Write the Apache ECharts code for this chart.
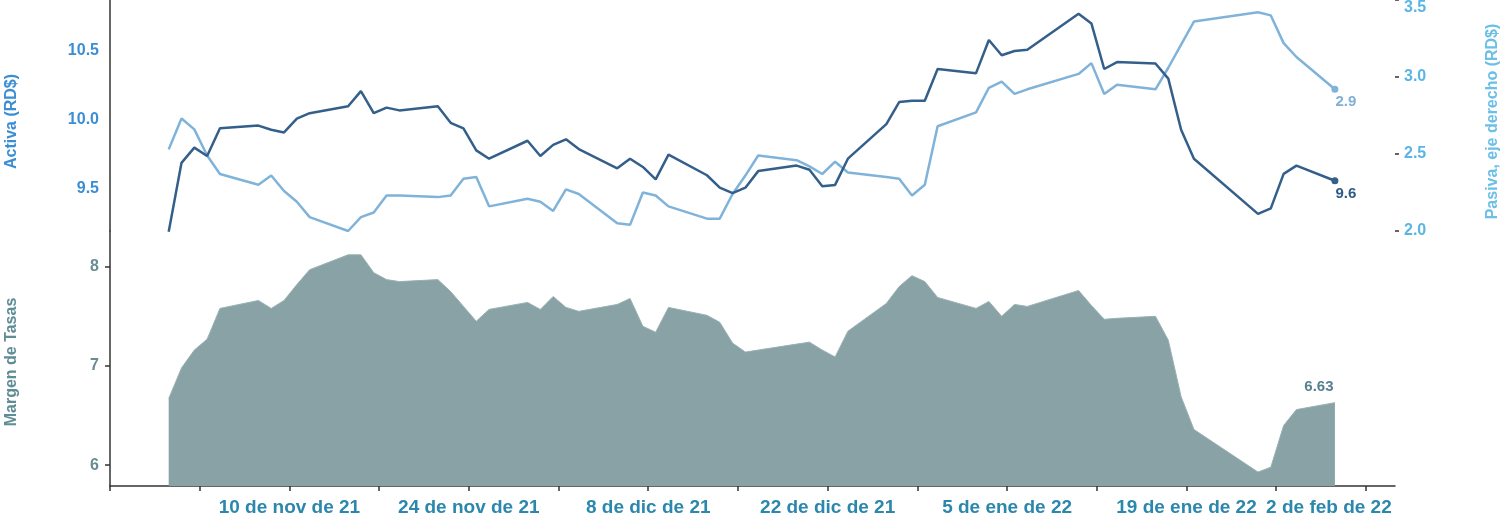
<!DOCTYPE html>
<html>
<head>
<meta charset="utf-8">
<title>Tasas activa y pasiva</title>
<script src="https://cdn.jsdelivr.net/npm/echarts@6/dist/echarts.min.js"></script>
<style>
  html, body { margin: 0; padding: 0; background: #fff; }
  #chart { width: 1504px; height: 523px; }
</style>
</head>
<body>
<div id="chart"></div>
<script>
// fechas (dias habiles con dato)
var fechas = [
  '2021-11-01','2021-11-02','2021-11-03','2021-11-04','2021-11-05','2021-11-08','2021-11-09','2021-11-10',
  '2021-11-11','2021-11-12','2021-11-15','2021-11-16','2021-11-17','2021-11-18','2021-11-19','2021-11-22',
  '2021-11-23','2021-11-24','2021-11-25','2021-11-26','2021-11-29','2021-11-30',
  '2021-12-01','2021-12-02','2021-12-03','2021-12-06','2021-12-07','2021-12-08','2021-12-09','2021-12-10',
  '2021-12-13','2021-12-14','2021-12-15','2021-12-16','2021-12-17','2021-12-20','2021-12-21','2021-12-22',
  '2021-12-23','2021-12-24','2021-12-27','2021-12-28','2021-12-29','2021-12-30','2021-12-31',
  '2022-01-03','2022-01-04','2022-01-05','2022-01-06','2022-01-07','2022-01-11','2022-01-12','2022-01-13',
  '2022-01-14','2022-01-17','2022-01-18','2022-01-19','2022-01-20','2022-01-25','2022-01-26','2022-01-27',
  '2022-01-28','2022-01-31'
];

var activa = [
  9.19, 9.69, 9.80, 9.74, 9.94, 9.96, 9.93, 9.91, 10.01, 10.05, 10.10, 10.21, 10.05, 10.09, 10.07, 10.10,
  9.98, 9.94, 9.78, 9.72, 9.85, 9.74,
  9.82, 9.86, 9.79, 9.65, 9.72, 9.66, 9.57, 9.75, 9.60, 9.51, 9.47, 9.51, 9.63, 9.67, 9.64, 9.52,
  9.53, 9.72, 9.97, 10.13, 10.14, 10.14, 10.37,
  10.34, 10.58, 10.47, 10.50, 10.51, 10.77, 10.70, 10.37, 10.42, 10.41, 10.30, 9.93, 9.72, 9.32, 9.36, 9.61,
  9.67, 9.56
];

var pasiva = [
  2.53, 2.73, 2.66, 2.49, 2.37, 2.30, 2.36, 2.26, 2.19, 2.09, 2.00, 2.09, 2.12, 2.23, 2.23, 2.22,
  2.23, 2.34, 2.35, 2.16, 2.21, 2.19,
  2.13, 2.27, 2.24, 2.05, 2.04, 2.25, 2.23, 2.16, 2.08, 2.08, 2.24, 2.36, 2.49, 2.46, 2.42, 2.37,
  2.45, 2.38, 2.35, 2.34, 2.23, 2.30, 2.68,
  2.77, 2.93, 2.97, 2.89, 2.92, 3.02, 3.09, 2.89, 2.95, 2.92, 3.06, 3.21, 3.36, 3.42, 3.40, 3.22,
  3.13, 2.92
];

var margen = [
  6.67, 6.98, 7.16, 7.27, 7.58, 7.66, 7.58, 7.66, 7.82, 7.97, 8.12, 8.12, 7.94, 7.87, 7.85, 7.87,
  7.75, 7.60, 7.45, 7.57, 7.64, 7.57,
  7.70, 7.59, 7.55, 7.62, 7.68, 7.40, 7.34, 7.59, 7.51, 7.44, 7.23, 7.14, 7.16, 7.22, 7.24, 7.16,
  7.09, 7.35, 7.63, 7.80, 7.91, 7.85, 7.69,
  7.58, 7.65, 7.50, 7.62, 7.60, 7.76, 7.61, 7.47, 7.48, 7.50, 7.26, 6.69, 6.36, 5.93, 5.98, 6.40,
  6.56, 6.63
];

// una marca por semana desde el 27 de oct de 21; etiqueta cada dos semanas
var etiquetasX = ['', '', '10 de nov de 21', '', '24 de nov de 21', '', '8 de dic de 21', '',
  '22 de dic de 21', '', '5 de ene de 22', '', '19 de ene de 22', '', '2 de feb de 22'];
var ticksActiva = [9.5, 10, 10.5];
var ticksMargen = [6, 7, 8];

var base = Date.UTC(2021, 9, 27);
var desfase = -0.42;
function dia(s) {
  return (Date.parse(s) - base) / 864e5 + desfase;
}

var diasTick = etiquetasX.map(function (t, i) { return i * 7; });
var diasEtiqueta = diasTick.filter(function (d, i) { return etiquetasX[i] !== ''; });

var fuente = "'Liberation Sans', Arial, sans-serif";

function serie(vals, fin) {
  var res = fechas.map(function (f, i) { return [dia(f), vals[i]]; });
  var n = res.length - 1;
  res[n] = { value: res[n], symbol: 'circle', symbolSize: fin.size, label: fin.label };
  return res;
}

var chart = echarts.init(document.getElementById('chart'));

var option = {
  animation: false,
  backgroundColor: '#fff',
  textStyle: { fontFamily: fuente },
  grid: [
    { left: 110, right: 109, top: 0, height: 231, outerBoundsMode: 'none', containLabel: false },
    { left: 110, right: 109, top: 231, bottom: 37, outerBoundsMode: 'none', containLabel: false }
  ],
  xAxis: [
    { gridIndex: 0, type: 'value', min: 0, max: 100.27, show: false, splitLine: { show: false } },
    {
      gridIndex: 1, type: 'value', min: 0, max: 100.27,
      axisLine: { lineStyle: { color: '#333', width: 1.5 } },
      axisTick: { customValues: diasTick, length: 5, lineStyle: { color: '#333', width: 1.5 } },
      axisLabel: {
        customValues: diasEtiqueta,
        margin: 12,
        color: '#2c87ad', fontSize: 19, fontWeight: 'bold', fontFamily: fuente,
        formatter: function (v) {
          var i = Math.round(v / 7);
          if (i === etiquetasX.length - 1) return '{u|' + etiquetasX[i] + '}';
          return etiquetasX[i];
        },
        rich: {
          u: { color: '#2c87ad', fontSize: 19, fontWeight: 'bold', fontFamily: fuente, padding: [0, 74, 0, 0] }
        }
      },
      splitLine: { show: false }
    }
  ],
  yAxis: [
    {
      gridIndex: 0, type: 'value', position: 'left', min: 9.196, max: 10.87,
      name: 'Activa (RD$)', nameLocation: 'middle', nameGap: 90,
      nameTextStyle: { color: '#3b8ed4', fontSize: 16, fontWeight: 'bold', fontFamily: fuente, padding: [0, 12, 0, 0] },
      axisLine: { show: true, lineStyle: { color: '#333', width: 1.5 } },
      axisTick: { show: false },
      axisLabel: {
        customValues: ticksActiva, margin: 11,
        color: '#3b8ed4', fontSize: 16, fontWeight: 'bold', fontFamily: fuente,
        formatter: function (v) { return v.toFixed(1); }
      },
      splitLine: { show: false }
    },
    {
      gridIndex: 0, type: 'value', position: 'right', min: 2, max: 3.5, interval: 0.5,
      name: 'Pasiva, eje derecho (RD$)', nameLocation: 'middle', nameGap: 90,
      nameTextStyle: { color: '#6cbfe6', fontSize: 16, fontWeight: 'bold', fontFamily: fuente, padding: [0, 12, 0, 0] },
      axisLine: { show: false },
      axisTick: { show: true, length: 4, lineStyle: { color: '#333', width: 1.5 } },
      axisLabel: {
        margin: 9, verticalAlignMaxLabel: 'top',
        color: '#5ab5e5', fontSize: 16, fontWeight: 'bold', fontFamily: fuente,
        formatter: function (v) { return v.toFixed(1); }
      },
      splitLine: { show: false }
    },
    {
      gridIndex: 1, type: 'value', position: 'left', min: 5.79, max: 8.36,
      name: 'Margen de Tasas', nameLocation: 'middle', nameGap: 90,
      nameTextStyle: { color: '#5e8d96', fontSize: 16, fontWeight: 'bold', fontFamily: fuente, padding: [0, 7, 0, 0] },
      axisLine: { show: true, lineStyle: { color: '#333', width: 1.5 } },
      axisTick: { show: true, customValues: ticksMargen, length: 5, lineStyle: { color: '#333', width: 1.5 } },
      axisLabel: {
        customValues: ticksMargen, margin: 11,
        color: '#6a8c94', fontSize: 16, fontWeight: 'bold', fontFamily: fuente
      },
      splitLine: { show: false }
    }
  ],
  series: [
    {
      name: 'Margen de Tasas', type: 'line', xAxisIndex: 1, yAxisIndex: 2,
      symbol: 'none', z: 1,
      lineStyle: { color: '#9ab1b4', width: 1 },
      itemStyle: { color: 'rgba(0,0,0,0)' },
      areaStyle: { color: '#88a2a5', opacity: 1, origin: 'start' },
      data: serie(margen, {
        size: 0.1,
        label: {
          show: true, position: 'top', distance: 8, offset: [-16, 0],
          color: '#57808f', fontSize: 15, fontWeight: 'bold', fontFamily: fuente,
          formatter: function (p) { return p.value[1].toFixed(2); }
        }
      })
    },
    {
      name: 'Pasiva', type: 'line', xAxisIndex: 0, yAxisIndex: 1,
      symbol: 'none', z: 2,
      lineStyle: { color: '#80b3da', width: 2.5 },
      itemStyle: { color: '#80b3da' },
      data: serie(pasiva, {
        size: 7,
        label: {
          show: true, position: 'bottom', distance: 2, offset: [11, 0],
          color: '#7fb0d6', fontSize: 15, fontWeight: 'bold', fontFamily: fuente,
          formatter: function (p) { return p.value[1].toFixed(1); }
        }
      })
    },
    {
      name: 'Activa', type: 'line', xAxisIndex: 0, yAxisIndex: 0,
      symbol: 'none', z: 3,
      lineStyle: { color: '#335f8a', width: 2.5 },
      itemStyle: { color: '#335f8a' },
      data: serie(activa, {
        size: 7,
        label: {
          show: true, position: 'bottom', distance: 2, offset: [11, 0],
          color: '#2f5b85', fontSize: 15, fontWeight: 'bold', fontFamily: fuente,
          formatter: function (p) { return p.value[1].toFixed(1); }
        }
      })
    }
  ]
};

chart.setOption(option);
</script>
</body>
</html>
